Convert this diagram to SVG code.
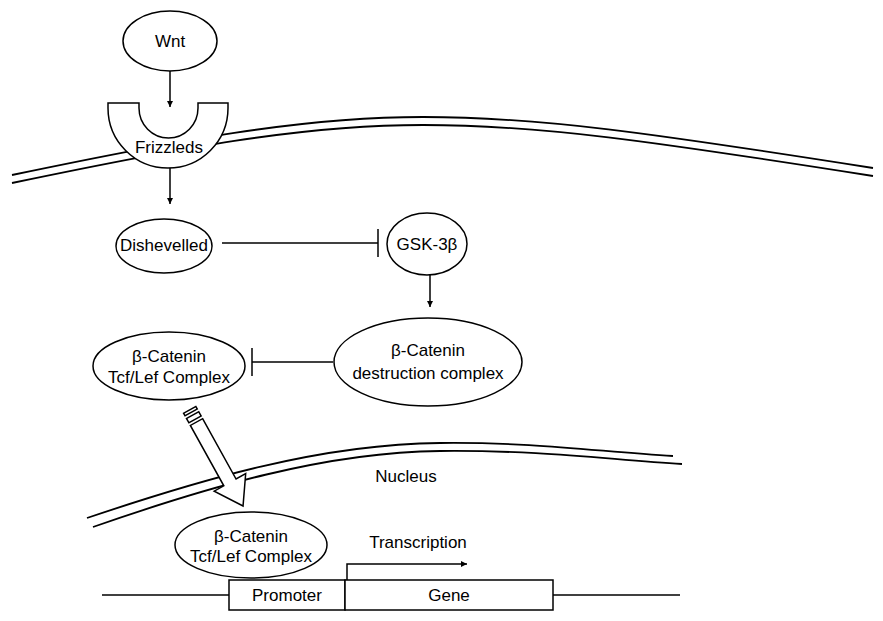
<svg xmlns="http://www.w3.org/2000/svg" width="883" height="621" viewBox="0 0 883 621">
<defs>
<style>
.n{fill:#fff;stroke:#000;stroke-width:1.5}
.m{fill:none;stroke:#000;stroke-width:1.8}
.c{fill:none;stroke:#000;stroke-width:1.5}
.t{font-family:"Liberation Sans",Arial,sans-serif;font-size:17px;fill:#000;text-anchor:middle}
</style>
<marker id="ah" viewBox="0 0 10 10" refX="10" refY="5" markerWidth="6" markerHeight="6" orient="auto" markerUnits="userSpaceOnUse">
<path d="M0,0 L10,5 L0,10 Z" fill="#000"/>
</marker>
</defs>
<rect width="883" height="621" fill="#fff"/>
<g id="membranes">
<path class="m" d="M12,175 C180,140 300,117 423,117 C540,117 650,133 873,168"/>
<path class="m" d="M12,183 C180,148 300,125 423,125 C540,125 650,141 873,176"/>
<path class="m" d="M87,518 C200,480 320,444 440,443 C540,442 600,452 673,456"/>
<path class="m" d="M93,527 C205,488 325,452 440,451 C545,450 610,460 682,464"/>
</g>
<g id="connectors">
<line class="c" x1="170" y1="71" x2="170" y2="107" marker-end="url(#ah)"/>
<line class="c" x1="170" y1="168" x2="170" y2="204" marker-end="url(#ah)"/>
<line class="c" x1="222" y1="243" x2="378" y2="243"/>
<line class="c" x1="378" y1="229" x2="378" y2="257"/>
<line class="c" x1="430" y1="275" x2="430" y2="307" marker-end="url(#ah)"/>
<line class="c" x1="333" y1="362" x2="252" y2="362"/>
<line class="c" x1="252" y1="348" x2="252" y2="376"/>
<g id="nuclear-import" transform="translate(189.7,409.8) rotate(61)">
<rect class="n" x="0" y="-7" width="3" height="14" stroke-width="1"/>
<rect class="n" x="6" y="-7" width="5" height="14" stroke-width="1"/>
<polygon class="n" stroke-width="1" points="14,-7 83,-7 83,-18 110,0 83,18 83,7 14,7"/>
</g>
<path class="c" d="M347,580 L347,564 L467,564" marker-end="url(#ah)"/>
</g>
<g id="wnt">
<ellipse class="n" cx="170" cy="41" rx="47" ry="30"/>
<text class="t" x="170" y="47">Wnt</text>
</g>
<g id="frizzleds">
<path class="n" d="M108,103 L139,103 L139,108 A29.5,30 0 0 0 198,108 L198,103 L228,103 L228,108 A60,60 0 0 1 108,108 Z"/>
<text class="t" x="169" y="153">Frizzleds</text>
</g>
<g id="dishevelled">
<ellipse class="n" cx="164" cy="246" rx="48" ry="27"/>
<text class="t" x="164" y="251">Dishevelled</text>
</g>
<g id="gsk3b">
<ellipse class="n" cx="427" cy="244" rx="40" ry="31"/>
<text class="t" x="427" y="250">GSK-3β</text>
</g>
<g id="destruction-complex">
<ellipse class="n" cx="428" cy="362" rx="94" ry="44"/>
<text class="t" x="428" y="356">β-Catenin</text>
<text class="t" x="428" y="379">destruction complex</text>
</g>
<g id="complex-cytoplasm">
<ellipse class="n" cx="169" cy="366" rx="76" ry="34"/>
<text class="t" x="169" y="362">β-Catenin</text>
<text class="t" x="169" y="383">Tcf/Lef Complex</text>
</g>
<g id="complex-nucleus">
<ellipse class="n" cx="251" cy="545" rx="76" ry="33"/>
<text class="t" x="251" y="542">β-Catenin</text>
<text class="t" x="251" y="562">Tcf/Lef Complex</text>
</g>
<g id="nucleus-label">
<text class="t" x="406" y="482">Nucleus</text>
</g>
<g id="dna">
<line class="c" x1="102" y1="595" x2="229" y2="595"/>
<line class="c" x1="553" y1="595" x2="680" y2="595"/>
<g id="promoter">
<rect class="n" x="229" y="580" width="116" height="30"/>
<text class="t" x="287" y="601">Promoter</text>
</g>
<g id="gene">
<rect class="n" x="345" y="580" width="208" height="30"/>
<text class="t" x="449" y="601">Gene</text>
</g>
</g>
<g id="transcription-label">
<text class="t" x="418" y="548">Transcription</text>
</g>
</svg>
